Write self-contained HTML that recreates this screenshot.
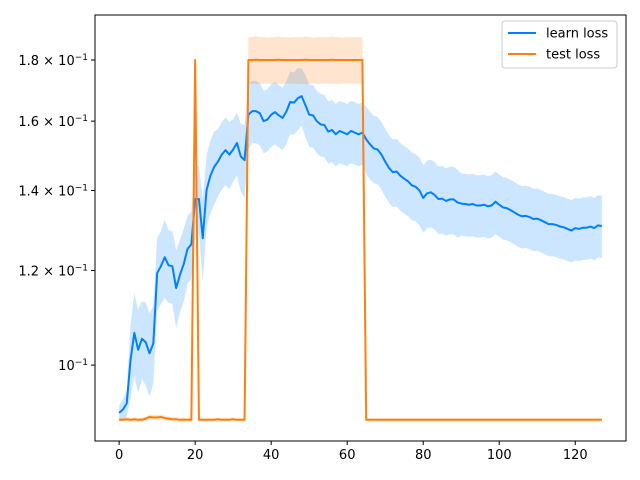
<!DOCTYPE html>
<html><head><meta charset="utf-8"><style>
html,body{margin:0;padding:0;background:#fff;}
svg{display:block;font-family:"DejaVu Sans","Liberation Sans",sans-serif;}
</style></head><body>
<svg id="chart" width="640" height="480" viewBox="0 0 640 480">
<rect x="0" y="0" width="640" height="480" fill="#fff"/>
<g id="plot"></g>
<g id="axes"></g>
<g>
<rect x="502" y="21" width="115" height="47" rx="3" fill="#fff" fill-opacity="0.8" stroke="#ccc"/>
<line x1="508" y1="33" x2="536" y2="33" stroke="#0080ff" stroke-width="2"/>
<text x="546" y="37.5" font-size="13" fill="#000">learn loss</text>
<line x1="508" y1="54" x2="536" y2="54" stroke="#ff7f0e" stroke-width="2"/>
<text x="546" y="58.5" font-size="13" fill="#000">test loss</text>
</g>
</svg>
<script>
const learnLoss=[0.0912,0.0918,0.0929,0.1010,0.1064,0.1030,0.1052,0.1045,0.1023,0.1043,
0.1194,0.1210,0.1231,0.1212,0.1210,0.1160,0.1190,0.1215,0.1251,0.1262,
0.1377,0.1377,0.1277,0.1401,0.1440,0.1465,0.1480,0.1500,0.1513,0.1500,
0.1515,0.1534,0.1495,0.1484,0.1620,0.1631,0.1631,0.1625,0.1600,0.1605,
0.1620,0.1628,0.1618,0.1610,0.1630,0.1660,0.1658,0.1672,0.1679,0.1650,
0.1620,0.1618,0.1600,0.1590,0.1588,0.1568,0.1573,0.1560,0.1570,0.1565,
0.1560,0.1570,0.1565,0.1560,0.1565,0.1545,0.1530,0.1518,0.1515,0.1500,
0.1480,0.1462,0.1450,0.1452,0.1440,0.1432,0.1425,0.1414,0.1410,0.1400,
0.1380,0.1392,0.1395,0.1388,0.1377,0.1378,0.1372,0.1376,0.1376,0.1368,
0.1365,0.1364,0.1362,0.1364,0.1360,0.1360,0.1362,0.1358,0.1360,0.1370,
0.1362,0.1355,0.1353,0.1348,0.1342,0.1336,0.1332,0.1333,0.1330,0.1325,
0.1326,0.1322,0.1317,0.1312,0.1312,0.1310,0.1306,0.1304,0.1300,0.1296,
0.1302,0.1300,0.1303,0.1303,0.1306,0.1302,0.1309,0.1307];
const learnSpread=[0.015,0.02,0.025,0.07,0.08,0.08,0.075,0.08,0.08,0.075,
0.07,0.07,0.075,0.07,0.07,0.075,0.07,0.07,0.065,0.065,
0.07,0.065,0.08,0.07,0.07,0.07,0.065,0.065,0.065,0.065,
0.06,0.06,0.065,0.07,0.065,0.06,0.06,0.06,0.06,0.06,
0.06,0.06,0.06,0.06,0.06,0.06,0.06,0.06,0.055,0.06,
0.06,0.06,0.06,0.06,0.06,0.06,0.06,0.06,0.06,0.06,
0.06,0.06,0.06,0.06,0.06,0.065,0.065,0.065,0.065,0.065,
0.065,0.065,0.065,0.065,0.065,0.065,0.065,0.065,0.065,0.065,
0.065,0.065,0.065,0.065,0.065,0.065,0.065,0.065,0.065,0.065,
0.06,0.06,0.06,0.06,0.06,0.06,0.06,0.06,0.06,0.06,
0.06,0.06,0.06,0.06,0.06,0.06,0.06,0.06,0.06,0.06,
0.06,0.06,0.06,0.06,0.06,0.06,0.06,0.06,0.06,0.06,
0.06,0.06,0.06,0.06,0.06,0.06,0.06,0.06];
const testLoss=[0.0900,0.0900,0.0901,0.0900,0.0901,0.0900,0.0900,0.0902,0.0905,0.0904,
0.0904,0.0905,0.0903,0.0902,0.0901,0.0901,0.0900,0.0900,0.0900,0.0900,
0.1800,0.0900,0.0900,0.0900,0.0900,0.0900,0.0901,0.0900,0.0900,0.0900,
0.0901,0.0900,0.0900,0.0900,0.1800,0.1800,0.1801,0.1800,0.1800,0.1800,
0.1800,0.1800,0.1801,0.1800,0.1800,0.1800,0.1800,0.1800,0.1800,0.1801,
0.1800,0.1800,0.1800,0.1800,0.1800,0.1800,0.1801,0.1800,0.1800,0.1800,
0.1800,0.1800,0.1800,0.1800,0.1800];
const testSpread=[0.004,0.004,0.004,0.004,0.004,0.004,0.004,0.004,0.005,0.005,
0.005,0.005,0.005,0.004,0.004,0.004,0.004,0.004,0.004,0.004,
0.03,0.003,0.003,0.003,0.003,0.003,0.003,0.003,0.003,0.003,
0.003,0.003,0.003,0.003,0.045,0.045,0.046,0.045,0.045,0.044,
0.045,0.045,0.046,0.045,0.045,0.044,0.045,0.045,0.045,0.046,
0.045,0.044,0.045,0.045,0.045,0.045,0.046,0.045,0.045,0.044,
0.045,0.045,0.045,0.045,0.045];
const testTailValue=0.0900;
const testTailLength=63;
const xTicks=[0,20,40,60,80,100,120];
const yTicks=[0.1,0.12,0.14,0.16,0.18];
const yTickLabels=["10","1.2 × 10","1.4 × 10","1.6 × 10","1.8 × 10"];

const NS="http://www.w3.org/2000/svg";
const L=95,R=626,T=15,B=441;
const xMin=-6.35,xMax=133.35;
const yMinV=0.0864,yMaxV=0.1963;
function xs(i){return L+(i-xMin)/(xMax-xMin)*(R-L);}
function ys(v){return B-(Math.log(v)-Math.log(yMinV))/(Math.log(yMaxV)-Math.log(yMinV))*(B-T);}
function mk(tag,attrs,parent){const e=document.createElementNS(NS,tag);for(const k in attrs)e.setAttribute(k,attrs[k]);parent.appendChild(e);return e;}
const plot=document.getElementById('plot'),axes=document.getElementById('axes');

const test=testLoss.slice();const tSpread=testSpread.slice();
for(let k=0;k<testTailLength;k++){test.push(testTailValue);tSpread.push(0.003);}

function band(vals,spr,fill,op,name){
  let up=vals.map((v,i)=>xs(i).toFixed(2)+','+ys(v*(1+spr[i])).toFixed(2));
  let lo=vals.map((v,i)=>xs(i).toFixed(2)+','+ys(v*(1-spr[i])).toFixed(2)).reverse();
  const p=mk('polygon',{points:up.concat(lo).join(' '),fill:fill,'fill-opacity':op},plot);
  
  
}
function line(vals,col,name){
  const p=mk('polyline',{points:vals.map((v,i)=>xs(i).toFixed(2)+','+ys(v).toFixed(2)).join(' '),fill:'none',stroke:col,'stroke-width':2,'stroke-linejoin':'round'},plot);
  
  
}
band(learnLoss,learnSpread,'#0080ff',0.2,'learn-loss-band');
band(test,tSpread,'#ff7f0e',0.2,'test-loss-band');
line(learnLoss,'#0080ff','learn-loss-line');
line(test,'#ff7f0e','test-loss-line');

const frame=mk('rect',{x:L,y:T,width:R-L,height:B-T,fill:'none',stroke:'#000','stroke-width':1},axes);


xTicks.forEach(t=>{
  const x=xs(t);
  const tl=mk('line',{x1:x,y1:B,x2:x,y2:B+4,stroke:'#000'},axes);
  
  
  const tx=mk('text',{x:x,y:B+18,'text-anchor':'middle','font-size':13},axes);
  tx.textContent=t;
  
  
});
yTicks.forEach((t,i)=>{
  const y=ys(t);
  const tl=mk('line',{x1:L-4,y1:y,x2:L,y2:y,stroke:'#000'},axes);
  
  
  const tx=mk('text',{x:L-7,y:y+5,'text-anchor':'end','font-size':13},axes);
  
  
  const a=document.createElementNS(NS,'tspan');a.textContent=yTickLabels[i];tx.appendChild(a);
  const s=document.createElementNS(NS,'tspan');s.setAttribute('dy','-5');s.setAttribute('font-size','9');s.textContent='−1';tx.appendChild(s);
});
</script>
</body></html>
